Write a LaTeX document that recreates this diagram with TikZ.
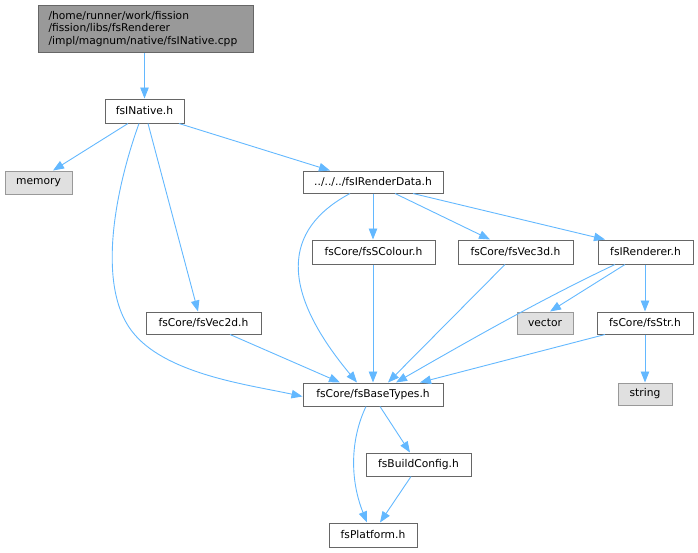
\documentclass[tikz,border=0pt]{standalone}
\usepackage{fontspec}
\setmainfont{DejaVu Sans}
\usetikzlibrary{arrows.meta}
\definecolor{edgec}{HTML}{63B8FF}
\definecolor{bord}{HTML}{666666}
\definecolor{gbord}{HTML}{999999}
\definecolor{gfill}{HTML}{E0E0E0}
\definecolor{mfill}{HTML}{999999}
\tikzset{
  box/.style={draw=bord, fill=white, line width=1pt, inner sep=0pt, font=\fontsize{10.7}{12}\selectfont},
  sysbox/.style={box, draw=gbord, fill=gfill},
  dep/.style={draw=edgec, line width=0.9pt, -{Triangle[length=11pt,width=8.5pt]}},
}
\begin{document}
\begin{tikzpicture}[x=1pt,y=-1pt]
\useasboundingbox (0,0) rectangle (698,552);
\node[box, draw=bord, fill=mfill, anchor=north west, text width=195pt, inner xsep=10pt, minimum height=47pt, align=left, font=\fontsize{10.7}{12.5}\selectfont] (cpp) at (38,5) {/home/runner/work/fission\\/fission/libs/fsRenderer\\/impl/magnum/native/fsINative.cpp};
\node[box, minimum width=79pt, minimum height=24pt] (native) at (144.5,111) {fsINative.h};
\node[sysbox, minimum width=67pt, minimum height=23pt] (memory) at (38.5,182.5) {memory};
\node[box, minimum width=140pt, minimum height=22pt] (rdata) at (373,182) {../../../fsIRenderData.h};
\node[box, minimum width=123pt, minimum height=24pt] (scol) at (373.5,252) {fsCore/fsSColour.h};
\node[box, minimum width=115pt, minimum height=24pt] (vec3) at (515.5,252) {fsCore/fsVec3d.h};
\node[box, minimum width=95pt, minimum height=24pt] (rend) at (645.5,252) {fsIRenderer.h};
\node[sysbox, minimum width=56pt, minimum height=22pt] (vector) at (545,323) {vector};
\node[box, minimum width=96pt, minimum height=22pt] (fsstr) at (645,323) {fsCore/fsStr.h};
\node[sysbox, minimum width=54pt, minimum height=22pt] (string) at (645,394) {string};
\node[box, minimum width=115pt, minimum height=22pt] (vec2) at (203.5,323) {fsCore/fsVec2d.h};
\node[box, minimum width=140pt, minimum height=23pt] (base) at (373,394.5) {fsCore/fsBaseTypes.h};
\node[box, minimum width=105pt, minimum height=23pt] (bcfg) at (418.5,464.5) {fsBuildConfig.h};
\node[box, minimum width=88pt, minimum height=24pt] (plat) at (373,535) {fsPlatform.h};

\draw[dep] (cpp.south -| native.north) -- (native.north);
\draw[dep] ([xshift=-16.5pt]native.south) -- ([xshift=14.5pt]memory.north);
\draw[dep] ([xshift=-5.5pt]native.south) .. controls (115,190) and (95,290) .. (135,335) .. controls (170,375) and (250,385) .. ([yshift=-2pt]base.west);
\draw[dep] ([xshift=3.5pt]native.south) -- ([xshift=-5.5pt]vec2.north);
\draw[dep] ([xshift=34.5pt]native.south) -- ([xshift=-43pt]rdata.north);
\draw[dep] ([xshift=-23pt]rdata.south) .. controls (282,230) and (280,290) .. ([xshift=-16pt]base.north);
\draw[dep] (rdata.south) -- (scol.north -| rdata.south);
\draw[dep] ([xshift=22pt]rdata.south) -- ([xshift=-25.5pt]vec3.north);
\draw[dep] ([xshift=40pt]rdata.south) -- ([xshift=-40.5pt]rend.north);
\draw[dep] (scol.south -| base.north) -- (base.north);
\draw[dep] ([xshift=-10.5pt]vec3.south) -- ([xshift=15pt]base.north);
\draw[dep] ([xshift=-30.5pt]rend.south) .. controls (540,300) and (470,340) .. ([xshift=23pt]base.north);
\draw[dep] ([xshift=-20.5pt]rend.south) -- ([xshift=5pt]vector.north);
\draw[dep] (rend.south -| fsstr.north) -- (fsstr.north);
\draw[dep] ([xshift=-40pt]fsstr.south) -- ([xshift=47pt]base.north);
\draw[dep] (fsstr.south) -- (string.north);
\draw[dep] ([xshift=26.5pt]vec2.south) -- ([xshift=-33pt]base.north);
\draw[dep] ([xshift=-7pt]base.south) .. controls (350,440) and (350,480) .. ([xshift=-6pt]plat.north);
\draw[dep] ([xshift=7pt]base.south) -- ([xshift=-8.5pt]bcfg.north);
\draw[dep] ([xshift=-7.5pt]bcfg.south) -- ([xshift=7pt]plat.north);
\end{tikzpicture}
\end{document}
